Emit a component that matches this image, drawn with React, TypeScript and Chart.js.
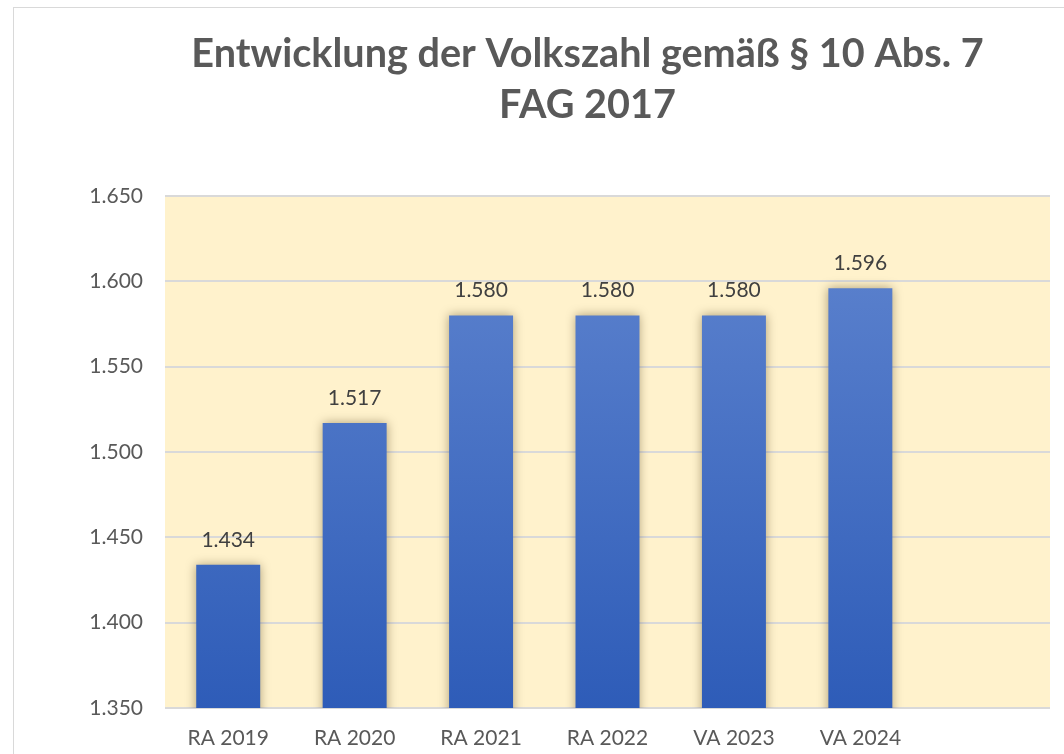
import React, { useEffect, useRef } from "react";
import { Chart, registerables } from "chart.js";

Chart.register(...registerables);

const categories = ["RA 2019", "RA 2020", "RA 2021", "RA 2022", "VA 2023", "VA 2024", ""];
const values: (number | null)[] = [1434, 1517, 1580, 1580, 1580, 1596, null];
const titleLines = ["Entwicklung der Volkszahl gemäß § 10 Abs. 7", "FAG 2017"];
const yMin = 1350;
const yMax = 1650;
const yStep = 50;

const FONT = "Lato, 'Open Sans', sans-serif";

const fmt = (v: number) => {
  const s = Math.round(v).toString();
  return s.length > 3 ? s.slice(0, s.length - 3) + "." + s.slice(s.length - 3) : s;
};

const plotBg = {
  id: "plotBg",
  beforeDraw(chart: any) {
    const { ctx, chartArea } = chart;
    ctx.save();
    ctx.fillStyle = "#FFF2CC";
    ctx.fillRect(chartArea.left, chartArea.top, chartArea.right - chartArea.left, chartArea.bottom - chartArea.top);
    ctx.restore();
  },
};

const titleText = {
  id: "titleText",
  afterDraw(chart: any) {
    const { ctx } = chart;
    ctx.save();
    ctx.font = `bold 39.6px ${FONT}`;
    ctx.fillStyle = "#595959";
    ctx.textAlign = "center";
    ctx.textBaseline = "alphabetic";
    ctx.fillText(titleLines[0], 587.5, 67);
    ctx.fillText(titleLines[1], 587.5, 118);
    ctx.restore();
  },
};

const barShadow = {
  id: "barShadow",
  beforeDatasetsDraw(chart: any) {
    const ctx = chart.ctx;
    ctx.save();
    ctx.shadowColor = "rgba(60,40,0,0.42)";
    ctx.shadowBlur = 10;
    ctx.shadowOffsetX = 0;
    ctx.shadowOffsetY = 0;
  },
  afterDatasetsDraw(chart: any) {
    chart.ctx.restore();
  },
};

const dataLabels = {
  id: "dataLabels",
  afterDatasetsDraw(chart: any) {
    const { ctx } = chart;
    const meta = chart.getDatasetMeta(0);
    ctx.save();
    ctx.font = `21px ${FONT}`;
    ctx.fillStyle = "#404040";
    ctx.textAlign = "center";
    ctx.textBaseline = "alphabetic";
    meta.data.forEach((bar: any, i: number) => {
      const v = values[i];
      if (v == null) return;
      ctx.fillText(fmt(v), bar.x, bar.y - 18);
    });
    ctx.restore();
  },
};

export default function App() {
  const ref = useRef<HTMLCanvasElement>(null);
  useEffect(() => {
    if (!ref.current) return;
    const chart = new Chart(ref.current, {
      type: "bar",
      data: {
        labels: categories,
        datasets: [
          {
            data: values,
            backgroundColor: (c: any) => {
              const area = c.chart.chartArea;
              if (!area) return "#4472C4";
              const g = c.chart.ctx.createLinearGradient(0, area.top, 0, area.bottom);
              g.addColorStop(0, "#6186D0");
              g.addColorStop(1, "#2E5CB8");
              return g;
            },
            borderWidth: 0,
            barPercentage: 0.506,
            categoryPercentage: 1,
          },
        ],
      },
      options: {
        responsive: false,
        animation: false,
        layout: { padding: { left: 0, right: 14, top: 196, bottom: 0 } },
        plugins: {
          legend: { display: false },
          tooltip: { enabled: false },
          title: { display: false },
        },
        scales: {
          x: {
            grid: { display: false, drawTicks: false },
            border: { display: false },
            ticks: { color: "#595959", font: { family: FONT, size: 21 }, padding: 18 },
            afterFit: (s: any) => {
              s.height = 46;
            },
          },
          y: {
            min: yMin,
            max: yMax,
            grid: { color: "#D9D9D9", lineWidth: 2, drawTicks: false },
            border: { display: false },
            ticks: {
              stepSize: yStep,
              color: "#595959",
              font: { family: FONT, size: 21 },
              padding: 22,
              callback: (v: any) => fmt(Number(v)),
            },
            afterFit: (s: any) => {
              s.width = 165;
            },
          },
        },
      },
      plugins: [plotBg, barShadow, dataLabels, titleText],
    });
    return () => chart.destroy();
  }, []);

  return (
    <div style={{ position: "fixed", left: 0, top: 0, width: 1064, height: 754, overflow: "hidden", background: "#fff" }}>
      <canvas ref={ref} width={1064} height={754} style={{ position: "absolute", left: 0, top: 0, width: 1064, height: 754 }} />
      <div
        style={{
          position: "absolute",
          left: 13,
          top: 7,
          width: 1200,
          height: 800,
          border: "1.5px solid #D9D9D9",
          boxSizing: "border-box",
          pointerEvents: "none",
        }}
      />
    </div>
  );
}
